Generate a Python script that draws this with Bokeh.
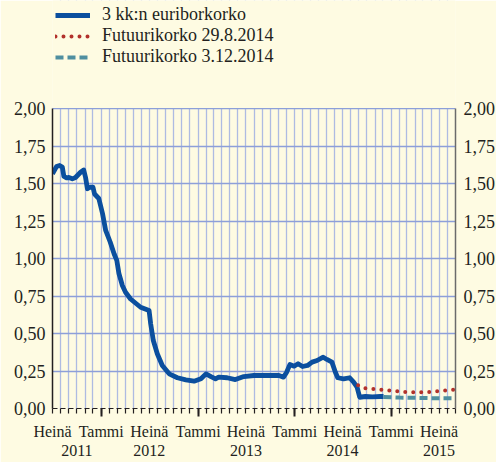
import pandas as pd
from bokeh.plotting import figure
from bokeh.models import (ColumnDataSource, FixedTicker, LinearAxis, DatetimeAxis,
                          Legend, LegendItem, Range1d, BoxAnnotation)
from bokeh.embed import file_html
from bokeh.resources import INLINE

# ---------------- data ----------------
euribor_dates = [
    "2011-07-01", "2011-07-16", "2011-07-28", "2011-08-07", "2011-08-13", "2011-08-23",
    "2011-09-01", "2011-09-14", "2011-09-26", "2011-10-15", "2011-10-27", "2011-11-03",
    "2011-11-10", "2011-11-20", "2011-12-01", "2011-12-07", "2011-12-23", "2012-01-06",
    "2012-01-18", "2012-02-04", "2012-02-19", "2012-02-29", "2012-03-08", "2012-03-21",
    "2012-04-02", "2012-04-21", "2012-05-29", "2012-06-30", "2012-07-06", "2012-07-16",
    "2012-07-31", "2012-08-19", "2012-09-14", "2012-10-15", "2012-11-16", "2012-12-17",
    "2013-01-12", "2013-01-31", "2013-02-19", "2013-03-08", "2013-03-20", "2013-04-21",
    "2013-05-22", "2013-06-23", "2013-07-31", "2013-09-20", "2013-11-03", "2013-11-20",
    "2013-12-02", "2013-12-14", "2013-12-30", "2014-01-14", "2014-01-31", "2014-02-19",
    "2014-03-08", "2014-03-27", "2014-04-19", "2014-05-03", "2014-05-22", "2014-06-04",
    "2014-06-13", "2014-07-05", "2014-07-28", "2014-08-12", "2014-08-25", "2014-09-04",
    "2014-09-26", "2014-10-22", "2014-11-21", "2014-12-03",
]
euribor_values = [
    1.565, 1.613, 1.620, 1.610, 1.547, 1.538,
    1.540, 1.531, 1.540, 1.575, 1.590, 1.540,
    1.465, 1.475, 1.475, 1.430, 1.400, 1.300,
    1.187, 1.110, 1.030, 0.987, 0.900, 0.820,
    0.775, 0.730, 0.675, 0.653, 0.565, 0.453,
    0.365, 0.287, 0.231, 0.205, 0.191, 0.182,
    0.198, 0.231, 0.213, 0.198, 0.209, 0.205,
    0.193, 0.213, 0.220, 0.220, 0.220, 0.209,
    0.242, 0.293, 0.282, 0.298, 0.280, 0.287,
    0.309, 0.320, 0.342, 0.327, 0.309, 0.242,
    0.205, 0.198, 0.205, 0.176, 0.142, 0.075,
    0.080, 0.078, 0.080, 0.080,
]

fut_aug_dates = [
    "2014-08-29", "2014-09-15", "2014-10-15", "2014-11-15", "2014-12-15", "2015-01-15",
    "2015-02-15", "2015-03-15", "2015-04-15", "2015-05-15", "2015-06-15", "2015-07-15",
    "2015-08-15", "2015-09-01",
]
fut_aug_values = [
    0.155, 0.138, 0.131, 0.127, 0.121, 0.116,
    0.111, 0.108, 0.107, 0.109, 0.113, 0.118,
    0.123, 0.126,
]

fut_dec_dates = ["2014-12-03", "2015-02-01", "2015-04-01", "2015-06-01", "2015-09-01"]
fut_dec_values = [0.077, 0.073, 0.071, 0.069, 0.068]

series_names = ["3 kk:n euriborkorko", "Futuurikorko 29.8.2014", "Futuurikorko 3.12.2014"]
y_tick_values = [0.0, 0.25, 0.5, 0.75, 1.0, 1.25, 1.5, 1.75, 2.0]
y_tick_labels = ["0,00", "0,25", "0,50", "0,75", "1,00", "1,25", "1,50", "1,75", "2,00"]
half_year_labels = {1: "Tammi", 7: "Heinä"}
year_labels = ["2011", "2012", "2013", "2014", "2015"]
year_label_dates = ["2011-10-01", "2012-07-01", "2013-07-01", "2014-07-01", "2015-07-01"]

# ---------------- styling ----------------
FONT = "Liberation Serif"
TXT = "#231f20"
BG = "#fefbe2"
BLUE = "#0b4f9e"
RED = "#b2312b"
TEAL = "#4f8fa0"
FRAME_H = 408
Y_MAX = 2.0
Y_TOP = 2.0 * FRAME_H / 300   # extra room above the data area for the legend


def ms(d):
    return pd.Timestamp(d).value / 1e6


x_start, x_end = ms("2011-07-01"), ms("2015-09-01")
months = pd.date_range("2011-07-01", "2015-09-01", freq="MS")
month_ticks = [ms(m) for m in months]
jan_ticks = [ms(m) for m in months if m.month == 1]
half_ticks = [ms(m) for m in months if m.month in (1, 7)]
half_overrides = {ms(m): half_year_labels[m.month] for m in months if m.month in (1, 7)}
year_ticks = [ms(d) for d in year_label_dates]

p = figure(frame_width=403, frame_height=FRAME_H, output_backend="svg", toolbar_location=None,
           x_axis_type="datetime", x_range=Range1d(x_start, x_end), y_range=Range1d(0, Y_TOP),
           min_border_left=52, min_border_right=41, min_border_top=0, min_border_bottom=54)
p.background_fill_color = BG
p.border_fill_color = BG
p.outline_line_color = None

src_e = ColumnDataSource(dict(x=pd.to_datetime(euribor_dates), y=euribor_values))
src_a = ColumnDataSource(dict(x=pd.to_datetime(fut_aug_dates), y=fut_aug_values))
src_d = ColumnDataSource(dict(x=pd.to_datetime(fut_dec_dates), y=fut_dec_values))

# hide the grid above the data area
p.add_layout(BoxAnnotation(bottom=Y_MAX + 0.004, fill_color=BG, fill_alpha=1,
                           line_color=None, level="glyph"))

r_e = p.line("x", "y", source=src_e, line_color=BLUE, line_width=4.8, line_join="round")
r_a = p.line("x", "y", source=src_a, line_color=RED, line_width=4, line_dash="0 8",
             line_cap="round")
r_d = p.line("x", "y", source=src_d, line_color=TEAL, line_width=4, line_dash="8 4")

# grids
p.xgrid.ticker = FixedTicker(ticks=month_ticks)
p.xgrid.grid_line_color = "#aebbe2"
p.xgrid.grid_line_width = 1.3
p.ygrid.ticker = FixedTicker(ticks=y_tick_values)
p.ygrid.grid_line_color = "#8d9fd9"
p.ygrid.grid_line_width = 1.3


def style_y(ax, standoff, line_color):
    ax.ticker = FixedTicker(ticks=y_tick_values)
    ax.bounds = (0, Y_MAX)
    ax.major_label_overrides = dict(zip(y_tick_values, y_tick_labels))
    ax.major_tick_out = 0
    ax.major_tick_in = 0
    ax.minor_tick_out = 0
    ax.minor_tick_in = 0
    ax.axis_line_color = line_color
    ax.axis_line_width = 1.5
    ax.major_label_standoff = standoff
    ax.major_label_text_font = FONT
    ax.major_label_text_font_size = "18px"
    ax.major_label_text_color = TXT


style_y(p.yaxis[0], 7, "#231f20")
yr = LinearAxis()
style_y(yr, 8, "#6b6b6b")
p.add_layout(yr, "right")

# bottom axis 1: month ticks, long ticks at year starts, no labels
xa = p.xaxis[0]
xa.ticker = FixedTicker(ticks=jan_ticks, minor_ticks=month_ticks)
xa.major_label_overrides = {t: "" for t in jan_ticks}
xa.major_tick_out = 8
xa.major_tick_in = 0
xa.major_tick_line_width = 2
xa.major_tick_line_color = "#231f20"
xa.minor_tick_out = 5
xa.minor_tick_in = 0
xa.minor_tick_line_color = "#231f20"
xa.minor_tick_line_width = 1.2
xa.axis_line_color = "#231f20"
xa.axis_line_width = 1.2
xa.axis_line_dash = "5 3"
xa.major_label_text_font_size = "1px"
xa.major_label_standoff = 0


def style_x_labels(ax, standoff):
    ax.axis_line_color = None
    ax.major_tick_line_color = None
    ax.minor_tick_line_color = None
    ax.major_tick_out = 0
    ax.minor_tick_out = 0
    ax.major_label_standoff = standoff
    ax.major_label_text_font = FONT
    ax.major_label_text_font_size = "16px"
    ax.major_label_text_color = TXT


# bottom axis 2: Tammi / Heinä labels
xb = DatetimeAxis(ticker=FixedTicker(ticks=half_ticks), major_label_overrides=half_overrides)
style_x_labels(xb, 6)
p.add_layout(xb, "below")

# bottom axis 3: years
xc = DatetimeAxis(ticker=FixedTicker(ticks=year_ticks),
                  major_label_overrides=dict(zip(year_ticks, year_labels)))
style_x_labels(xc, 2)
p.add_layout(xc, "below")

legend = Legend(items=[LegendItem(label=series_names[0], renderers=[r_e]),
                       LegendItem(label=series_names[1], renderers=[r_a]),
                       LegendItem(label=series_names[2], renderers=[r_d])],
                location=(3, 341), orientation="vertical")
legend.background_fill_alpha = 0
legend.border_line_color = None
legend.padding = 0
legend.margin = 0
legend.spacing = 0
legend.glyph_width = 35
legend.glyph_height = 20
legend.label_height = 20
legend.label_standoff = 12
legend.label_text_font = FONT
legend.label_text_font_size = "18px"
legend.label_text_color = TXT
p.add_layout(legend, "center")

open("out.html", "w").write(file_html(p, INLINE))
